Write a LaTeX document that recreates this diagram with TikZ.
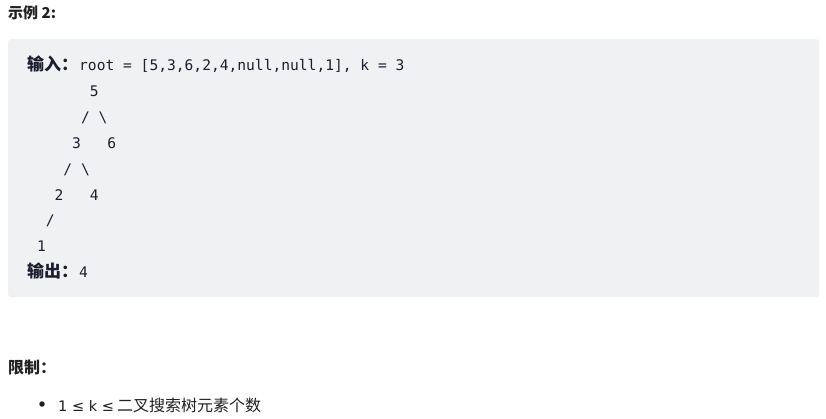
\documentclass[tikz,border=0pt]{standalone}
\usepackage{fontspec}
\newfontfamily\cjk{Noto Sans CJK SC}
\newfontfamily\latin{DejaVu Sans}
\newfontfamily\code{DejaVu Sans Mono}
\definecolor{panelbg}{RGB}{240,241,243}
\definecolor{ink}{RGB}{33,33,33}
\definecolor{codeink}{RGB}{28,30,48}

\begin{document}
\begin{tikzpicture}[x=1pt,y=-1pt]
\tikzstyle{every node}=[inner sep=0pt, anchor=base west, text=ink]
\tikzstyle{head}=[font=\cjk\bfseries\fontsize{15}{15}\selectfont]
\tikzstyle{tag}=[font=\cjk\bfseries\fontsize{17}{17}\selectfont, text=codeink]
\tikzstyle{code}=[font=\code\fontsize{14.6}{14.6}\selectfont, text=codeink]

\useasboundingbox (0,0) rectangle (826,418);

\node[head] (title) at (8,18) {示例 2:};

\node[fill=panelbg, rounded corners=3pt, anchor=north west,
      minimum width=811pt, minimum height=258pt] (panel) at (8,39) {};

% input line
\node[tag] (input) at (27,70) {输入：};
\node[code] (root) at (79,70) {root = [5,3,6,2,4,null,null,1], k = 3};

% the tree, one glyph per node
\node[code] (n5) at (89.6,96) {5};
\node[code] (s5l) at (80.8,122) {/};
\node[code] (s5r) at (98.4,122) {\textbackslash};
\node[code] (n3) at (72,148) {3};
\node[code] (n6) at (107.2,148) {6};
\node[code] (s3l) at (63.2,174) {/};
\node[code] (s3r) at (80.8,174) {\textbackslash};
\node[code] (n2) at (54.4,200) {2};
\node[code] (n4) at (89.6,200) {4};
\node[code] (s2l) at (45.6,225) {/};
\node[code] (n1) at (36.8,251) {1};

% output line
\node[tag] (output) at (27,277) {输出：};
\node[code] (result) at (79,277) {4};

% constraints
\node[head, font=\cjk\bfseries\fontsize{16}{16}\selectfont] (limits) at (8,373) {限制：};
\node[circle, fill=ink, minimum size=5.5pt, anchor=center] (dot) at (42,404) {};
\node[font=\latin\fontsize{14.5}{14.5}\selectfont] (bound) at (58,411) {1 ≤ k ≤};
\node[font=\cjk\fontsize{16}{16}\selectfont] (bounddesc) at (117,411) {二叉搜索树元素个数};

\end{tikzpicture}
\end{document}
